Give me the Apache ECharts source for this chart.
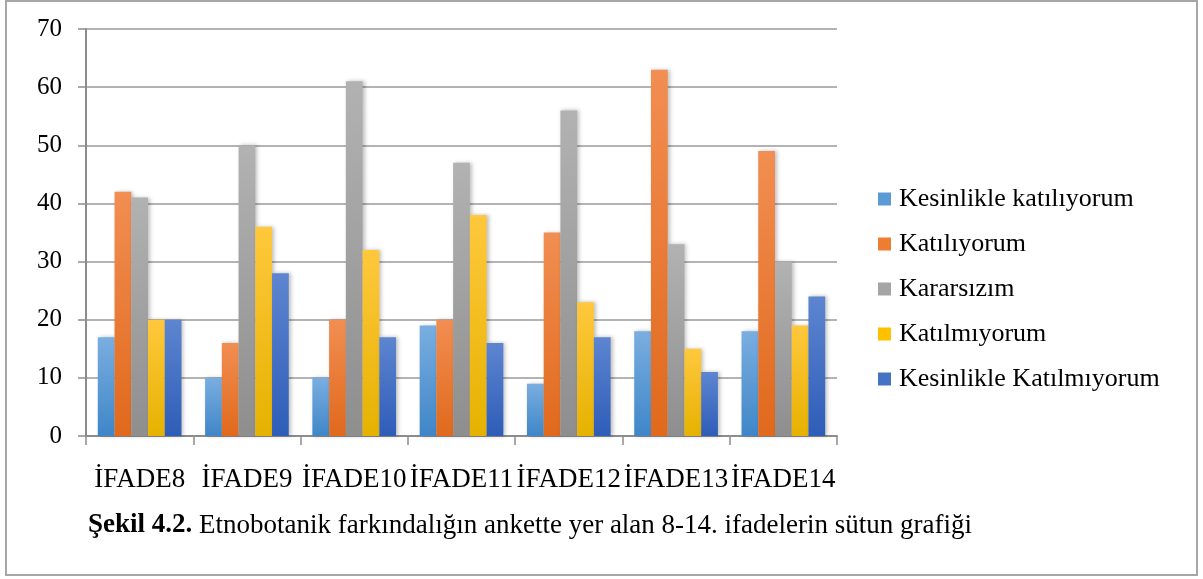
<!DOCTYPE html>
<html>
<head>
<meta charset="utf-8">
<script src="https://cdn.jsdelivr.net/npm/echarts@6/dist/echarts.min.js"></script>
<style>
  html, body { margin: 0; padding: 0; background: #fff; }
  #chart { width: 1203px; height: 579px; }
</style>
</head>
<body>
<div id="chart"></div>
<script>
// kategoriler ve seriler
var categories = ['İFADE8', 'İFADE9', 'İFADE10', 'İFADE11', 'İFADE12', 'İFADE13', 'İFADE14'];
var seriesNames = ['Kesinlikle katılıyorum', 'Katılıyorum', 'Kararsızım', 'Katılmıyorum', 'Kesinlikle Katılmıyorum'];
var kesinlikleKatiliyorum = [17, 10, 10, 19, 9, 18, 18];
var katiliyorum = [42, 16, 20, 20, 35, 63, 49];
var kararsizim = [41, 50, 61, 47, 56, 33, 30];
var katilmiyorum = [20, 36, 32, 38, 23, 15, 19];
var kesinlikleKatilmiyorum = [20, 28, 17, 16, 17, 11, 24];
var yTicks = [0, 10, 20, 30, 40, 50, 60, 70];

var allData = [kesinlikleKatiliyorum, katiliyorum, kararsizim, katilmiyorum, kesinlikleKatilmiyorum];
// renkler: üst açık, alt koyu
var colorTop = ['#7aaee0', '#f28e52', '#b2b2b2', '#ffc83d', '#5d85d0'];
var colorBottom = ['#3f86c8', '#e0691c', '#8e8e8e', '#e6b200', '#2e5db8'];
var legendColor = ['#5b9bd5', '#ed7d31', '#a5a5a5', '#ffc000', '#4472c4'];

var font = '"Liberation Serif", "Times New Roman", serif';

var series = [];
for (var i = 0; i < allData.length; i++) {
  series.push({
    name: seriesNames[i],
    type: 'bar',
    data: allData[i],
    barGap: '0%',
    barCategoryGap: '22%',
    color: legendColor[i],
    itemStyle: {
      color: new echarts.graphic.LinearGradient(0, 0, 0, 1, [
        { offset: 0, color: colorTop[i] },
        { offset: 1, color: colorBottom[i] }
      ]),
      shadowColor: 'rgba(0,0,0,0.25)',
      shadowBlur: 4,
      shadowOffsetX: 2
    }
  });
}

var chart = echarts.init(document.getElementById('chart'));
chart.setOption({
  animation: false,
  textStyle: { fontFamily: font },
  grid: { left: 86, right: 366, top: 29, bottom: 143, containLabel: false },
  legend: {
    orient: 'vertical',
    left: 873,
    top: 181,
    itemWidth: 13,
    itemHeight: 13,
    itemGap: 19,
    icon: 'rect',
    textStyle: { fontFamily: font, fontSize: 26, color: '#000', padding: [0, 0, 0, 3] },
    data: seriesNames.map(function (n, i) {
      return { name: n, itemStyle: { color: legendColor[i] } };
    })
  },
  xAxis: {
    type: 'category',
    data: categories,
    axisLine: { lineStyle: { color: '#8c8c8c', width: 2 } },
    axisTick: { show: true, length: 9, lineStyle: { color: '#8c8c8c', width: 1.5 } },
    axisLabel: { fontFamily: font, fontSize: 27, color: '#000', margin: 30, interval: 0 }
  },
  yAxis: {
    type: 'value',
    min: yTicks[0],
    max: yTicks[yTicks.length - 1],
    interval: 10,
    axisLine: { show: true, lineStyle: { color: '#8c8c8c', width: 2 } },
    axisTick: { show: true, length: 8, lineStyle: { color: '#8c8c8c', width: 1.5 } },
    axisLabel: { fontFamily: font, fontSize: 25, color: '#000', margin: 24 },
    splitLine: { lineStyle: { color: '#9a9a9a', width: 1.5 } }
  },
  graphic: [
    {
      type: 'rect',
      shape: { x: 6, y: 1, width: 1191, height: 574 },
      style: { fill: 'none', stroke: '#a6a6a6', lineWidth: 2 },
      silent: true
    },
    {
      type: 'text',
      left: 88,
      top: 512,
      style: {
        text: '{b|Şekil 4.2.} Etnobotanik farkındalığın ankette yer alan 8-14. ifadelerin sütun grafiği',
        fontFamily: font,
        fontSize: 27,
        fill: '#000',
        rich: {
          b: { fontWeight: 'bold', fontFamily: font, fontSize: 27, fill: '#000' }
        }
      }
    }
  ],
  series: series
});
</script>
</body>
</html>
